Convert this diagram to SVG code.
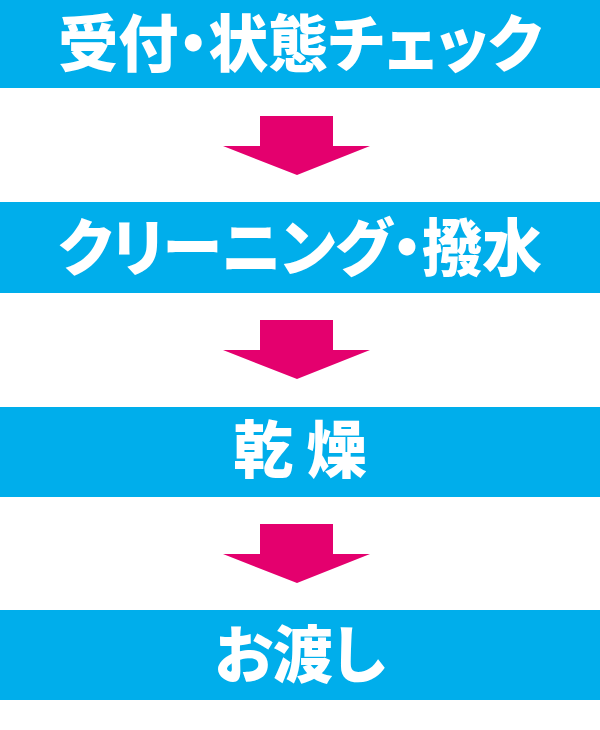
<svg xmlns="http://www.w3.org/2000/svg" width="600" height="730" viewBox="0 0 600 730">
<style>
.bar{fill:#00AEEB}
.lbl{font-family:"Noto Sans CJK JP","Noto Sans CJK SC",sans-serif;font-weight:900;font-size:60px;fill:#fff;text-anchor:middle;font-feature-settings:"palt"}
.arr{fill:#E4006E}
</style>
<rect width="600" height="730" fill="#fff"/>
<g id="step1"><rect class="bar" x="0" y="0" width="600" height="88"/><text class="lbl" transform="translate(300,67) scale(1,1.04)">受付・状態チェック</text></g>
<g id="step2"><rect class="bar" x="0" y="202" width="600" height="91"/><text class="lbl" transform="translate(300,271) scale(1,1.04)">クリーニング・撥水</text></g>
<g id="step3"><rect class="bar" x="0" y="407" width="600" height="90"/><text class="lbl" transform="translate(300,473) scale(1,1.04)">乾 燥</text></g>
<g id="step4"><rect class="bar" x="0" y="610" width="600" height="90"/><text class="lbl" transform="translate(300,678) scale(1,1.04)">お渡し</text></g>
<g id="connectors">
<polygon class="arr" points="260,116 333,116 333,146 370,146 297,175 223,146 260,146"/>
<polygon class="arr" points="260,320 333,320 333,350 370,350 297,379 223,350 260,350"/>
<polygon class="arr" points="260,524 333,524 333,554 370,554 297,583 223,554 260,554"/>
</g>
</svg>
